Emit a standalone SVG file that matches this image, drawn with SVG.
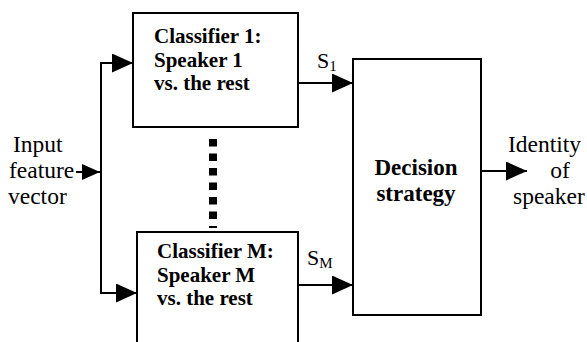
<svg xmlns="http://www.w3.org/2000/svg" width="587" height="342" viewBox="0 0 587 342">
<style>
.box{fill:#fff;stroke:#000;stroke-width:2}
.ln{fill:none;stroke:#000;stroke-width:2}
.b{font-family:"Liberation Serif","Times New Roman",serif;font-weight:bold;font-size:21px;fill:#000}
.d{font-family:"Liberation Serif","Times New Roman",serif;font-weight:bold;font-size:23px;fill:#000}
.r{font-family:"Liberation Serif","Times New Roman",serif;font-size:23.5px;fill:#000}
.s{font-family:"Liberation Serif","Times New Roman",serif;font-size:22px;fill:#000}
.sub{font-size:15px}
</style>
<defs>
<marker id="ah" markerUnits="userSpaceOnUse" markerWidth="22" markerHeight="20" refX="21" refY="9.5" orient="auto">
<path d="M0,0 L21,9.5 L0,19 Z" fill="#000"/>
</marker>
<marker id="ahs" markerUnits="userSpaceOnUse" markerWidth="19" markerHeight="17" refX="18" refY="8" orient="auto">
<path d="M0,0 L18,8 L0,16 Z" fill="#000"/>
</marker>
</defs>
<g id="classifier1">
<rect class="box" x="133" y="13" width="165" height="114"/>
<text class="b" x="154" y="43">Classifier 1:</text>
<text class="b" x="154" y="67">Speaker 1</text>
<text class="b" x="154" y="90">vs. the rest</text>
</g>
<g id="classifierM">
<rect class="box" x="137" y="232" width="161" height="116"/>
<text class="b" x="157" y="258">Classifier M:</text>
<text class="b" x="157" y="282">Speaker M</text>
<text class="b" x="157" y="305">vs. the rest</text>
</g>
<g id="decision">
<rect class="box" x="353" y="59" width="128" height="256"/>
<text class="d" x="416" y="175" text-anchor="middle">Decision</text>
<text class="d" x="416" y="201" text-anchor="middle">strategy</text>
</g>
<g id="input">
<text class="r" x="13" y="152">Input</text>
<text class="r" x="9" y="178">feature</text>
<text class="r" x="8" y="204">vector</text>
</g>
<g id="output">
<text class="r" x="508" y="152">Identity</text>
<text class="r" x="560" y="178" text-anchor="middle">of</text>
<text class="r" x="513" y="204">speaker</text>
</g>
<g id="connectors">
<line class="ln" x1="76" y1="172" x2="100" y2="172" marker-end="url(#ahs)"/>
<line class="ln" x1="101" y1="62" x2="101" y2="294"/>
<line class="ln" x1="100" y1="63" x2="133" y2="63" marker-end="url(#ah)"/>
<line class="ln" x1="100" y1="293" x2="137" y2="293" marker-end="url(#ah)"/>
<line class="ln" x1="298" y1="83" x2="353" y2="83" marker-end="url(#ah)"/>
<line class="ln" x1="298" y1="285" x2="353" y2="285" marker-end="url(#ah)"/>
<line class="ln" x1="481" y1="171" x2="527" y2="171" marker-end="url(#ah)"/>
<line x1="213" y1="139" x2="213" y2="228" stroke="#000" stroke-width="8" stroke-dasharray="7.5 7"/>
<text class="s" x="317" y="68">S<tspan class="sub" dy="3">1</tspan></text>
<text class="s" x="307" y="265">S<tspan class="sub" dy="3">M</tspan></text>
</g>
</svg>
